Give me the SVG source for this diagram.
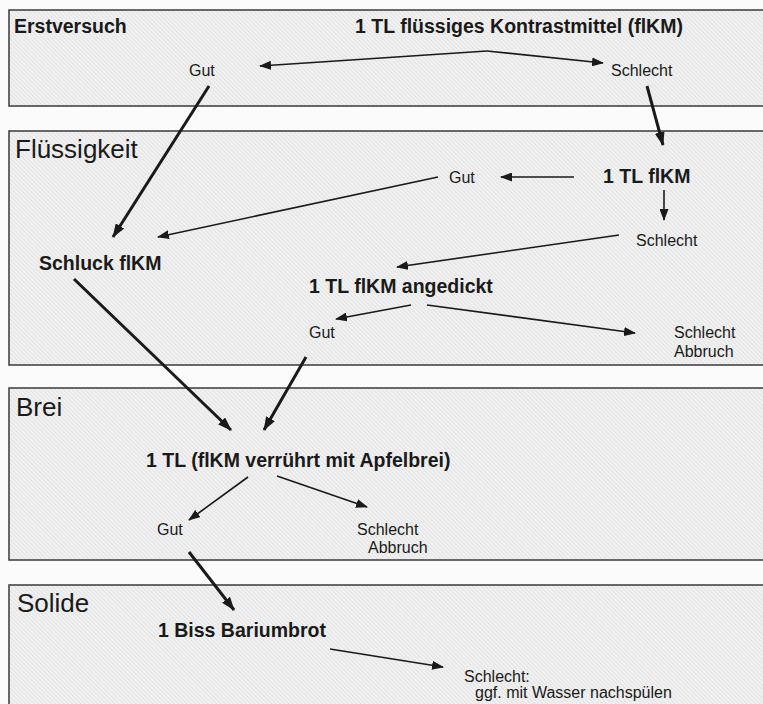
<svg xmlns="http://www.w3.org/2000/svg" width="763" height="704" viewBox="0 0 763 704">
<defs>
<pattern id="hatch" width="3" height="3" patternUnits="userSpaceOnUse" patternTransform="rotate(-45)">
<rect width="3" height="3" fill="#f1f1f1"/>
<line x1="0" y1="0" x2="0" y2="3" stroke="#d6d6d6" stroke-width="1"/>
</pattern>
<marker id="ah" viewBox="0 0 12 9" refX="11" refY="4.5" markerWidth="12" markerHeight="9" markerUnits="userSpaceOnUse" orient="auto">
<path d="M0,0 L12,4.5 L0,9 z" fill="#1a1a1a"/>
</marker>
<marker id="ahb" viewBox="0 0 14 10" refX="13" refY="5" markerWidth="14" markerHeight="10" markerUnits="userSpaceOnUse" orient="auto">
<path d="M0,0 L14,5 L0,10 z" fill="#1a1a1a"/>
</marker>
</defs>
<style>
text{font-family:"Liberation Sans",Arial,sans-serif;fill:#1a1a1a}
.b{font-weight:bold;font-size:19.5px}
.s{font-size:16px}
.h{font-size:26px}
.box{fill:url(#hatch);stroke:#3a3a3a;stroke-width:1.5}
.c{stroke:#1a1a1a;stroke-width:1.6;fill:none;marker-end:url(#ah)}
.t{stroke:#1a1a1a;stroke-width:3;fill:none;marker-end:url(#ahb)}
</style>
<rect width="763" height="704" fill="#fbfbfb"/>
<g id="stage-erstversuch">
<rect class="box" x="9" y="10" width="770" height="96"/>
<text class="b" x="14" y="33">Erstversuch</text>
</g>
<g id="stage-fluessigkeit">
<rect class="box" x="9" y="131" width="770" height="234"/>
<text class="h" x="15" y="158">Flüssigkeit</text>
</g>
<g id="stage-brei">
<rect class="box" x="9" y="388" width="770" height="172"/>
<text class="h" x="16" y="416">Brei</text>
</g>
<g id="stage-solide">
<rect class="box" x="9" y="585" width="770" height="140"/>
<text class="h" x="17" y="612">Solide</text>
</g>
<g id="n-start"><text class="b" x="355" y="33">1 TL flüssiges Kontrastmittel (flKM)</text></g>
<g id="n-e-gut"><text class="s" x="189" y="76">Gut</text></g>
<g id="n-e-schlecht"><text class="s" x="611" y="76">Schlecht</text></g>
<g id="n-f-1tl"><text class="b" x="603" y="183">1 TL flKM</text></g>
<g id="n-f-gut"><text class="s" x="449" y="183">Gut</text></g>
<g id="n-f-schlecht"><text class="s" x="636" y="246">Schlecht</text></g>
<g id="n-schluck"><text class="b" x="39" y="270">Schluck flKM</text></g>
<g id="n-angedickt"><text class="b" x="309" y="293">1 TL flKM angedickt</text></g>
<g id="n-a-gut"><text class="s" x="309" y="338">Gut</text></g>
<g id="n-a-schlecht"><text class="s" x="674" y="338">Schlecht</text><text class="s" x="674" y="357">Abbruch</text></g>
<g id="n-brei"><text class="b" x="146" y="467">1 TL (flKM verrührt mit Apfelbrei)</text></g>
<g id="n-b-gut"><text class="s" x="157" y="535">Gut</text></g>
<g id="n-b-schlecht"><text class="s" x="357" y="535">Schlecht</text><text class="s" x="368" y="553">Abbruch</text></g>
<g id="n-brot"><text class="b" x="158" y="637">1 Biss Bariumbrot</text></g>
<g id="n-s-schlecht"><text class="s" x="464" y="682">Schlecht:</text><text class="s" x="475" y="698">ggf. mit Wasser nachspülen</text></g>
<g id="connectors">
<path class="c" d="M487,51 L260,66"/>
<path class="c" d="M487,51 L603,63"/>
<path class="t" d="M209,86 L113,237"/>
<path class="t" d="M647,86 L663,145"/>
<path class="c" d="M574,177 L501,177"/>
<path class="c" d="M664,190 L664,220"/>
<path class="c" d="M438,177 L158,237"/>
<path class="c" d="M619,235 L397,267"/>
<path class="c" d="M411,305 L336,319"/>
<path class="c" d="M427,305 L635,333"/>
<path class="t" d="M74,279 L231,430"/>
<path class="t" d="M306,357 L264,430"/>
<path class="c" d="M248,477 L189,520"/>
<path class="c" d="M277,476 L367,507"/>
<path class="t" d="M189,552 L234,610"/>
<path class="c" d="M330,649 L443,667"/>
</g>
</svg>
